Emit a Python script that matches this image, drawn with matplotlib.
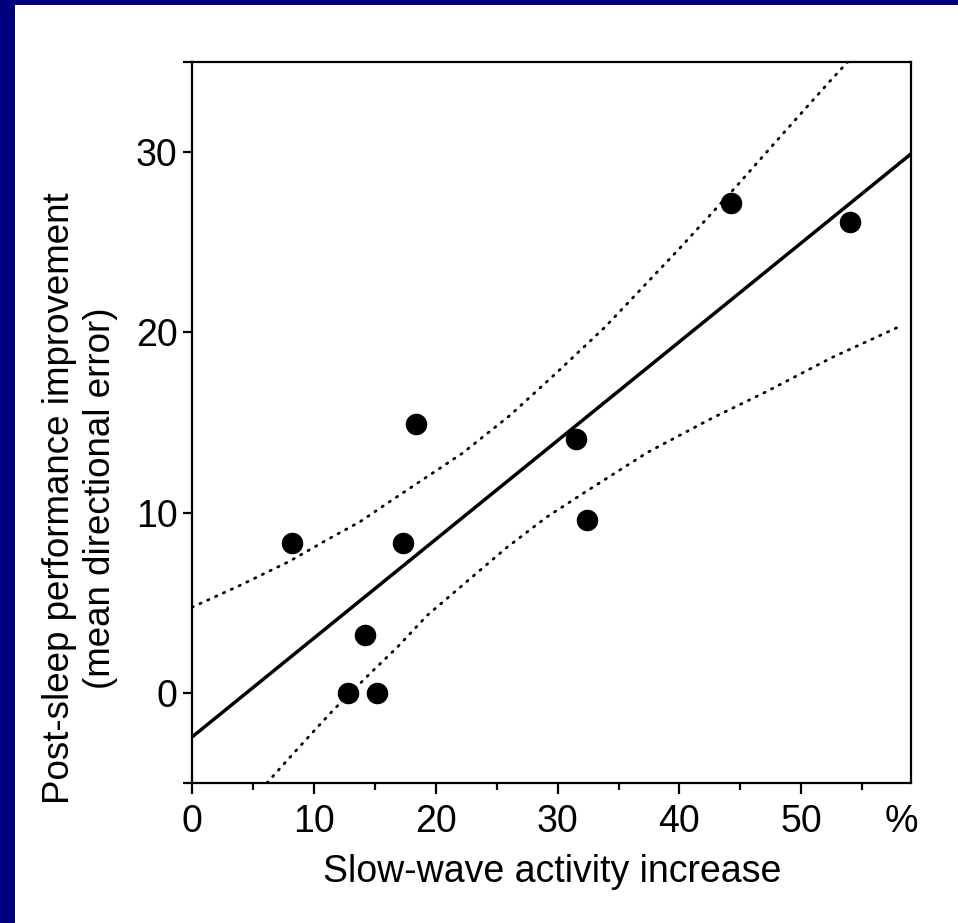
import matplotlib
matplotlib.use("Agg")
import matplotlib.pyplot as plt
from matplotlib.patches import Rectangle
from matplotlib.ticker import MultipleLocator

plt.rcParams["font.family"] = ["Liberation Sans", "DejaVu Sans"]

# data
swa_increase = [8.2, 12.8, 15.2, 14.2, 17.3, 18.4, 31.5, 32.4, 44.2, 54.0]
improvement = [8.3, 0.0, 0.0, 3.2, 8.3, 14.9, 14.1, 9.6, 27.2, 26.1]

fit_x = [0.0, 59.0]
fit_y = [-2.45, 29.9]

upper_x = [0.0, 3.9, 8.0, 11.1, 13.8, 16.2, 22.2, 26.1, 29.9, 33.9, 40.0, 44.8, 48.2, 52.3, 53.8]
upper_y = [4.75, 5.95, 7.3, 8.5, 9.5, 10.6, 13.3, 15.4, 17.75, 20.3, 24.65, 28.2, 30.8, 33.9, 35.0]
lower_x = [6.15, 8.0, 10.3, 11.6, 14.8, 16.8, 19.3, 25.8, 29.1, 32.4, 37.4, 42.7, 47.1, 52.5, 58.3]
lower_y = [-5.0, -3.6, -1.9, -0.95, 1.2, 2.5, 4.3, 8.05, 9.75, 11.2, 13.35, 15.25, 16.7, 18.6, 20.4]

x_major = [0, 10, 20, 30, 40, 50]
y_ticks = [-5, 0, 10, 20, 30, 35]
y_labels = ["", "0", "10", "20", "30", ""]

FS = 27

fig = plt.figure(figsize=(9.58, 9.23), dpi=100, facecolor="#000080")
fig.patches.append(Rectangle((15 / 958, 0), 1, 1 - 5 / 923, transform=fig.transFigure,
                             facecolor="white", edgecolor="none", zorder=-1))

ax = fig.add_axes([192 / 958, 1 - 783 / 923, (911 - 192) / 958, (783 - 62) / 923])
ax.set_zorder(1)
ax.set_facecolor("white")

ax.plot(fit_x, fit_y, color="black", lw=2.5, solid_capstyle="butt", zorder=3)
for xs, ys in [(upper_x, upper_y), (lower_x, lower_y)]:
    ax.plot(xs, ys, color="black", lw=2.0, linestyle=(0, (0.5, 2.6)),
            dash_capstyle="round", zorder=2)
ax.scatter(swa_increase, improvement, s=210, color="black", zorder=4, clip_on=False)

ax.set_xlim(0, 59)
ax.set_ylim(-5, 35)

ax.set_xticks(x_major)
ax.xaxis.set_minor_locator(MultipleLocator(5))
ax.set_yticks(y_ticks)
ax.set_yticklabels(y_labels)

for side in ax.spines.values():
    side.set_linewidth(1.6)
ax.tick_params(axis="x", which="major", direction="out", length=8, width=1.6,
               labelsize=FS, pad=7)
ax.tick_params(axis="x", which="minor", direction="out", length=5, width=1.6)
ax.tick_params(axis="y", direction="out", length=6.5, width=1.6, labelsize=FS, pad=4)

ax.annotate("%", xy=(58.2, 0), xycoords=("data", "axes fraction"),
            xytext=(0, -15), textcoords="offset points",
            ha="center", va="top", fontsize=FS)

fig.text(552 / 958, 1 - 872 / 923, "Slow-wave activity increase",
         ha="center", va="center", fontsize=FS)
fig.text(80 / 958, 1 - 498 / 923,
         "Post-sleep performance improvement\n(mean directional error)",
         rotation=90, ha="center", va="center", multialignment="center",
         fontsize=26.5, linespacing=1.2)

fig.savefig("out.png", dpi=100, facecolor=fig.get_facecolor())
